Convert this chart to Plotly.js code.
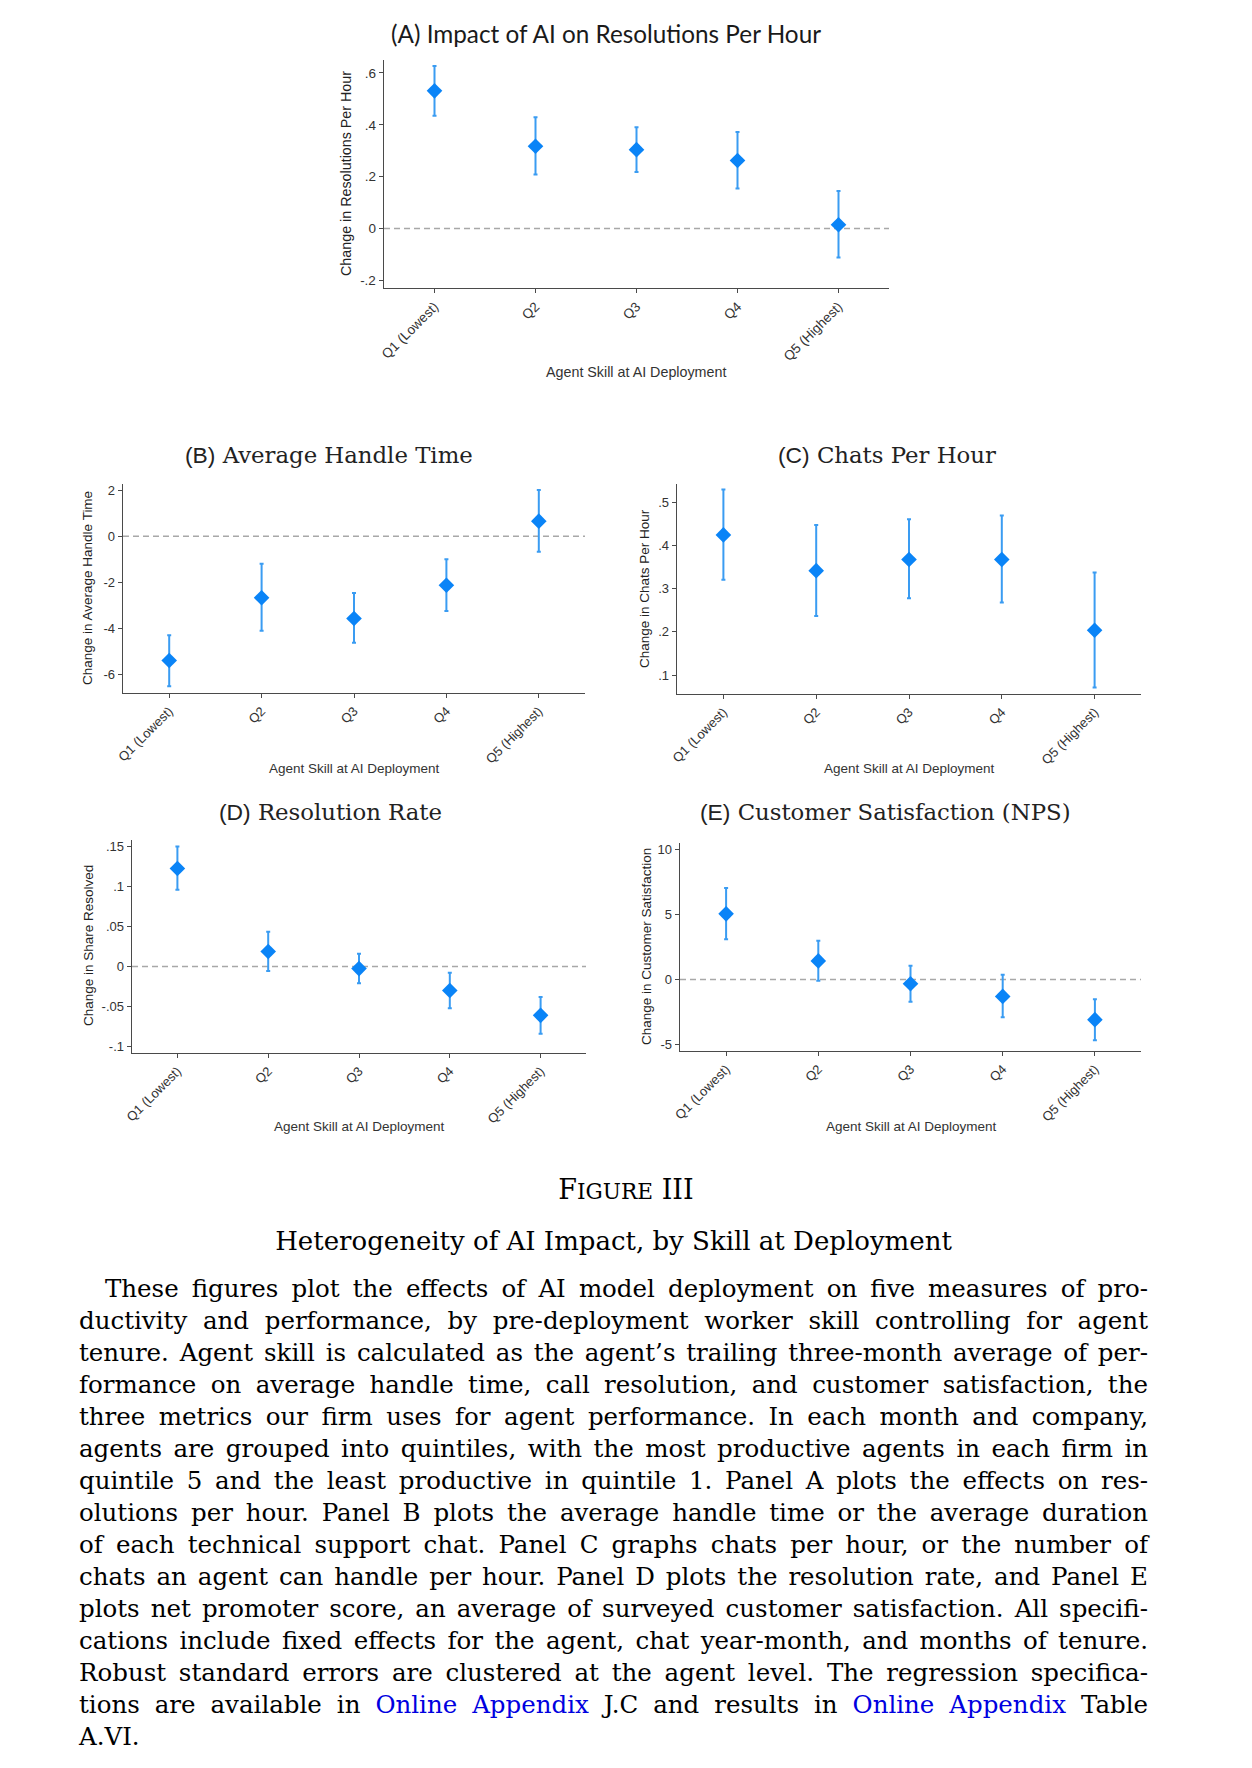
<!DOCTYPE html>
<html>
<head>
<meta charset="utf-8">
<script src="https://cdn.plot.ly/plotly-3.0.1.min.js"></script>
<style>
  html, body { margin: 0; padding: 0; background: #fff; }
  #wrap { position: relative; width: 1252px; height: 1768px; }
  #chart { position: absolute; left: 0; top: 0; width: 1252px; height: 1768px; }
  .cap { position: absolute; left: 79px; width: 1069px; font-family: 'DejaVu Serif', serif;
         color: #000; font-size: 24.5px; height: 32px; line-height: 32px; white-space: nowrap; }
  .center { text-align: center; }
  .lnk { color: #0000e0; }
</style>
</head>
<body>
<div id="wrap">
  <div id="chart"></div>
  <div id="caption"></div>
</div>
<script>
// ---------------- DATA ----------------
const quintiles = ['Q1 (Lowest)', 'Q2', 'Q3', 'Q4', 'Q5 (Highest)'];

// Panel A: Resolutions per hour
const resPerHour      = [0.531, 0.317, 0.304, 0.262, 0.014];
const resPerHourLo    = [0.435, 0.208, 0.218, 0.154, -0.112];
const resPerHourHi    = [0.627, 0.429, 0.390, 0.372, 0.144];
const resPerHourTicks = [-0.2, 0, 0.2, 0.4, 0.6];
const resPerHourTickText = ['-.2', '0', '.2', '.4', '.6'];

// Panel B: Average handle time
const aht      = [-5.39, -2.67, -3.57, -2.13, 0.65];
const ahtLo    = [-6.51, -4.10, -4.62, -3.25, -0.68];
const ahtHi    = [-4.30, -1.20, -2.46, -1.00, 2.00];
const ahtTicks = [-6, -4, -2, 0, 2];
const ahtTickText = ['-6', '-4', '-2', '0', '2'];

// Panel C: Chats per hour
const chats      = [0.425, 0.342, 0.368, 0.368, 0.204];
const chatsLo    = [0.321, 0.237, 0.278, 0.268, 0.071];
const chatsHi    = [0.530, 0.448, 0.461, 0.470, 0.338];
const chatsTicks = [0.1, 0.2, 0.3, 0.4, 0.5];
const chatsTickText = ['.1', '.2', '.3', '.4', '.5'];

// Panel D: Resolution rate
const resRate      = [0.1224, 0.0187, -0.0026, -0.030, -0.061];
const resRateLo    = [0.096, -0.0055, -0.021, -0.052, -0.084];
const resRateHi    = [0.150, 0.0434, 0.016, -0.0077, -0.038];
const resRateTicks = [-0.1, -0.05, 0, 0.05, 0.1, 0.15];
const resRateTickText = ['-.1', '-.05', '0', '.05', '.1', '.15'];

// Panel E: Customer satisfaction (NPS)
const nps      = [5.05, 1.43, -0.33, -1.30, -3.09];
const npsLo    = [3.09, -0.10, -1.71, -2.91, -4.67];
const npsHi    = [7.04, 2.98, 1.05, 0.36, -1.51];
const npsTicks = [-5, 0, 5, 10];
const npsTickText = ['-5', '0', '5', '10'];

const xAxisTitle = 'Agent Skill at AI Deployment';

// ---------------- HELPERS ----------------
const W = 1252, H = 1768;
const px = v => v / W;
const py = v => 1 - v / H;

const MARKER = '#0a84f7';
const ERR = '#3a9cf2';
const SANS = 'Liberation Sans, Arial, sans-serif';
const SERIF = 'DejaVu Serif, serif';

function trace(vals, lo, hi, xa, ya) {
  return {
    type: 'scatter', mode: 'markers', x: quintiles, y: vals,
    xaxis: xa, yaxis: ya,
    marker: { symbol: 'diamond', size: 12, color: MARKER },
    error_y: {
      type: 'data', symmetric: false,
      array: hi.map((h, i) => h - vals[i]),
      arrayminus: lo.map((l, i) => vals[i] - l),
      color: ERR, thickness: 2, width: 2
    },
    hoverinfo: 'skip'
  };
}

function xax(l, r, anchor, fs) {
  return {
    domain: [px(l), px(r)], anchor: anchor, type: 'category',
    range: [-0.5, 4.5], tickangle: -45,
    showline: true, linecolor: '#4a4a4a', linewidth: 1.4,
    ticks: 'outside', ticklen: 4, tickcolor: '#4a4a4a', tickwidth: 1,
    showgrid: false, zeroline: false,
    tickfont: { family: SANS, size: fs, color: '#333' }
  };
}
function yax(t, b, range, tv, tt, anchor, fs) {
  return {
    domain: [py(b), py(t)], anchor: anchor, range: range,
    tickvals: tv, ticktext: tt,
    showline: true, linecolor: '#4a4a4a', linewidth: 1.4,
    ticks: 'outside', ticklen: 4, tickcolor: '#4a4a4a', tickwidth: 1,
    showgrid: false, zeroline: false,
    tickfont: { family: SANS, size: fs, color: '#333' }
  };
}

// panel boxes (left, right, top, bottom) in page px
const boxA = [384, 889, 60, 288];
const boxB = [123, 585, 484, 693];
const boxC = [677, 1141, 484, 694];
const boxD = [132, 586, 840, 1053];
const boxE = [680, 1141, 843, 1051];

const data = [
  trace(resPerHour, resPerHourLo, resPerHourHi, 'x', 'y'),
  trace(aht, ahtLo, ahtHi, 'x2', 'y2'),
  trace(chats, chatsLo, chatsHi, 'x3', 'y3'),
  trace(resRate, resRateLo, resRateHi, 'x4', 'y4'),
  trace(nps, npsLo, npsHi, 'x5', 'y5')
];

function zeroLine(xref, yref) {
  return { type: 'line', xref: xref + ' domain', yref: yref, x0: 0, x1: 1, y0: 0, y1: 0,
           layer: 'below', line: { color: '#a8a8a8', width: 1.5, dash: '6px,4px' } };
}

function ann(text, x, y, size, family, color, angle) {
  return { text: text, x: px(x), y: py(y), xref: 'paper', yref: 'paper',
           xanchor: 'center', yanchor: 'middle', showarrow: false,
           textangle: angle || 0,
           font: { size: size, family: family, color: color } };
}
const sansSpan = s => "<span style='font-family:\"Liberation Sans\", Arial, sans-serif'>" + s + "</span>";

const TA = 14.3, TB = 13.5;   // axis title sizes
const KA = 13.5, KB = 13;     // tick label sizes
const PT = 22.8;              // panel title size

const layout = {
  width: W, height: H, margin: { l: 0, r: 0, t: 0, b: 0 },
  paper_bgcolor: '#fff', plot_bgcolor: '#fff', showlegend: false,
  xaxis:  xax(boxA[0], boxA[1], 'y', KA),
  yaxis:  yax(boxA[2], boxA[3], [-0.23, 0.65], resPerHourTicks, resPerHourTickText, 'x', KA),
  xaxis2: xax(boxB[0], boxB[1], 'y2', KB),
  yaxis2: yax(boxB[2], boxB[3], [-6.8, 2.26], ahtTicks, ahtTickText, 'x2', KB),
  xaxis3: xax(boxC[0], boxC[1], 'y3', KB),
  yaxis3: yax(boxC[2], boxC[3], [0.056, 0.543], chatsTicks, chatsTickText, 'x3', KB),
  xaxis4: xax(boxD[0], boxD[1], 'y4', KB),
  yaxis4: yax(boxD[2], boxD[3], [-0.108, 0.158], resRateTicks, resRateTickText, 'x4', KB),
  xaxis5: xax(boxE[0], boxE[1], 'y5', KB),
  yaxis5: yax(boxE[2], boxE[3], [-5.5, 10.5], npsTicks, npsTickText, 'x5', KB),
  shapes: [zeroLine('x', 'y'), zeroLine('x2', 'y2'), zeroLine('x4', 'y4'), zeroLine('x5', 'y5')],
  annotations: [
    ann('(A) Impact of AI on Resolutions Per Hour', 606, 33, 24.3, 'Lato, Open Sans, sans-serif', '#1a1a1a'),
    ann(sansSpan('(B)') + ' Average Handle Time', 329, 455, PT, SERIF, '#222'),
    ann(sansSpan('(C)') + ' Chats Per Hour', 887, 455, PT, SERIF, '#222'),
    ann(sansSpan('(D)') + ' Resolution Rate', 330, 812, PT, SERIF, '#222'),
    ann(sansSpan('(E)') + ' Customer Satisfaction (NPS)', 885, 812, PT, SERIF, '#222'),
    ann(xAxisTitle, 636, 372, TA, SANS, '#333'),
    ann(xAxisTitle, 354, 768, TB, SANS, '#333'),
    ann(xAxisTitle, 909, 768, TB, SANS, '#333'),
    ann(xAxisTitle, 359, 1126, TB, SANS, '#333'),
    ann(xAxisTitle, 911, 1126, TB, SANS, '#333'),
    ann('Change in Resolutions Per Hour', 346, 174, TA, SANS, '#222', -90),
    ann('Change in Average Handle Time', 88, 588, TB, SANS, '#222', -90),
    ann('Change in Chats Per Hour', 645, 589, TB, SANS, '#222', -90),
    ann('Change in Share Resolved', 88, 946, TB, SANS, '#222', -90),
    ann('Change in Customer Satisfaction', 646, 947, TB, SANS, '#222', -90)
  ]
};

Plotly.newPlot('chart', data, layout, { staticPlot: true, displayModeBar: false });

// ---------------- CAPTION ----------------
const captionHeaderHtml = 'F<span style="font-size:0.8em">IGURE</span> III';
const captionTitle = 'Heterogeneity of AI Impact, by Skill at Deployment';
const captionLines = [
  'These figures plot the effects of AI model deployment on five measures of pro-',
  'ductivity and performance, by pre-deployment worker skill controlling for agent',
  'tenure. Agent skill is calculated as the agent’s trailing three-month average of per-',
  'formance on average handle time, call resolution, and customer satisfaction, the',
  'three metrics our firm uses for agent performance. In each month and company,',
  'agents are grouped into quintiles, with the most productive agents in each firm in',
  'quintile 5 and the least productive in quintile 1. Panel A plots the effects on res-',
  'olutions per hour. Panel B plots the average handle time or the average duration',
  'of each technical support chat. Panel C graphs chats per hour, or the number of',
  'chats an agent can handle per hour. Panel D plots the resolution rate, and Panel E',
  'plots net promoter score, an average of surveyed customer satisfaction. All specifi-',
  'cations include fixed effects for the agent, chat year-month, and months of tenure.',
  'Robust standard errors are clustered at the agent level. The regression specifica-',
  'tions are available in [Online Appendix] J.C and results in [Online Appendix] Table',
  'A.VI.'
];
const CAP_W = 1069, INDENT = 26;
const cap = document.getElementById('caption');
const lineDivs = [];
function addLine(html, centerY, cls, extra) {
  const d = document.createElement('div');
  d.className = 'cap ' + cls;
  d.style.top = (centerY - 16) + 'px';
  if (extra) Object.assign(d.style, extra);
  d.innerHTML = html;
  cap.appendChild(d);
  return d;
}
addLine(captionHeaderHtml, 1190, 'center', { fontSize: '27px', left: '0px', width: '1252px' });
addLine(captionTitle, 1241, 'center', { fontSize: '26px' });
captionLines.forEach((t, i) => {
  const html = '<span class="inner">' + t.replace(/\[([^\]]+)\]/g, '<span class="lnk">$1</span>') + '</span>';
  const d = addLine(html, 1289 + 32 * i, '', i === 0 ? { paddingLeft: INDENT + 'px', width: (CAP_W - INDENT) + 'px' } : null);
  lineDivs.push({ d: d, text: t.replace(/[\[\]]/g, ''), last: i === captionLines.length - 1, avail: CAP_W - (i === 0 ? INDENT : 0) });
});
function justify() {
  lineDivs.forEach(o => {
    if (o.last) return;
    o.d.style.wordSpacing = '0px';
    const w = o.d.querySelector('.inner').getBoundingClientRect().width;
    const spaces = (o.text.match(/ /g) || []).length;
    if (spaces > 0) o.d.style.wordSpacing = ((o.avail - w) / spaces) + 'px';
  });
}
justify();
if (document.fonts && document.fonts.ready) document.fonts.ready.then(justify);
</script>
</body>
</html>
